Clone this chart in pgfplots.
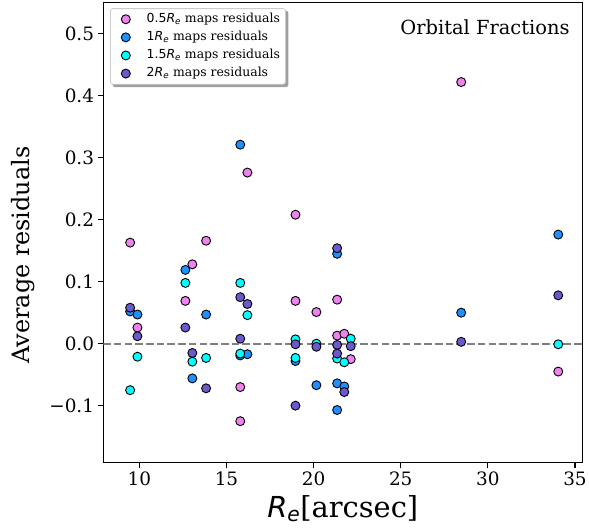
\documentclass[border=0pt]{standalone}
\usepackage{fontspec}
\setmainfont{DejaVu Serif}
\setsansfont{DejaVu Sans}
\usepackage{pgfplots}
\pgfplotsset{compat=1.18}
\usetikzlibrary{backgrounds}
\definecolor{cviolet}{HTML}{EE82EE}
\definecolor{cdodger}{HTML}{1E90FF}
\definecolor{ccyan}{HTML}{00FFFF}
\definecolor{cslate}{HTML}{6A5ACD}
\newcommand{\Reff}{\textsf{\textit{R}}\textsubscript{\textsf{\textit{e}}}}
\pgfplotsset{
 mylegimg/.style={legend image code/.code={\path (0bp,0bp) (30bp,0bp); \draw[mark repeat=2,mark phase=2,##1] plot coordinates {(0bp,0bp)(11bp,0bp)(30bp,0bp)};}},
}
\begin{document}
\begin{tikzpicture}
\begin{axis}[
 at={(0,0)}, anchor=south west,
 scale only axis, width=479bp, height=460bp,
 xmin=7.93, xmax=35.42, ymin=-0.192, ymax=0.55,
 xtick={10,15,20,25,30,35}, xticklabels={10,15,20,25,30,35},
 ytick={-0.1,0,0.1,0.2,0.3,0.4,0.5}, yticklabels={−0.1,0.0,0.1,0.2,0.3,0.4,0.5},
 tick align=outside, tick pos=left,
 major tick length=5.7bp,
 every tick/.style={black, line width=1.2bp},
 axis line style={line width=1.5bp},
 tick label style={font=\fontsize{18.5}{22}\selectfont},
 xlabel={\Reff[arcsec]},
 ylabel={Average residuals},
 xlabel style={at={(axis description cs:0.5,-0.1187)}, anchor=base, font=\fontsize{29}{34}\selectfont},
 ylabel style={at={(axis description cs:-0.1676,0.4515)}, anchor=center, font=\fontsize{24}{28}\selectfont},
 legend style={name=L, at={(0.014,0.988)}, anchor=north west, draw=gray!40, line width=0.8bp, fill=white, rounded corners=2.5bp, font=\fontsize{12.5}{14}\selectfont, row sep=2.8bp, inner xsep=4bp, inner ysep=3bp, nodes={text height=9.3bp,text depth=3bp, inner sep=1.5bp}},
 legend cell align=left,
]
\addplot[forget plot, gray, line width=1.8bp, dash pattern=on 7.5bp off 3.2bp] coordinates {(7.93,0) (35.42,0)};
\addplot[only marks, mark=*, mark size=4.5bp, mark options={fill=cviolet, draw=black, line width=0.9bp}, mylegimg] coordinates {
(9.47,0.163) (9.89,0.026) (12.64,0.069) (13.04,0.128) (13.83,0.166) (15.79,-0.070) (15.79,-0.125) (16.2,0.276) (18.96,0.208) (18.96,0.069) (20.16,0.051) (21.35,0.071) (21.35,0.013) (21.76,0.016) (22.13,-0.025) (28.47,0.422) (34.04,-0.045)
};
\addlegendentry{\textsf{0.5}\Reff\ maps residuals}
\addplot[only marks, mark=*, mark size=4.5bp, mark options={fill=cdodger, draw=black, line width=0.9bp}, mylegimg] coordinates {
(9.47,0.052) (9.89,0.047) (12.64,0.119) (13.04,-0.056) (13.83,0.047) (15.79,0.321) (15.79,-0.019) (16.2,-0.017) (18.96,-0.028) (20.16,-0.067) (21.35,0.145) (21.35,-0.064) (21.35,-0.107) (21.76,-0.069) (28.47,0.050) (34.04,0.176)
};
\addlegendentry{\textsf{1}\Reff\ maps residuals}
\addplot[only marks, mark=*, mark size=4.5bp, mark options={fill=ccyan, draw=black, line width=0.9bp}, mylegimg] coordinates {
(9.47,-0.075) (9.89,-0.021) (12.64,0.098) (13.04,-0.029) (13.83,-0.023) (15.79,0.098) (15.79,-0.016) (16.2,0.046) (18.96,0.007) (18.96,-0.023) (20.16,0.000) (21.35,-0.024) (21.76,-0.030) (22.13,0.008) (34.04,-0.001)
};
\addlegendentry{\textsf{1.5}\Reff\ maps residuals}
\addplot[only marks, mark=*, mark size=4.5bp, mark options={fill=cslate, draw=black, line width=0.9bp}, mylegimg] coordinates {
(9.47,0.058) (9.89,0.012) (12.64,0.026) (13.04,-0.015) (13.83,-0.072) (15.79,0.075) (15.79,0.008) (16.2,0.064) (18.96,-0.001) (18.96,-0.100) (20.16,-0.005) (21.35,0.154) (21.35,-0.002) (21.35,-0.016) (21.76,-0.078) (22.13,-0.004) (28.47,0.003) (34.04,0.078)
};
\addlegendentry{\textsf{2}\Reff\ maps residuals}
\node[anchor=base east, font=\fontsize{19.5}{23}\selectfont] at (rel axis cs:0.9806,0.9313) {Orbital Fractions};
\end{axis}
\begin{scope}[on background layer]
\fill[gray!75, rounded corners=2.5bp] ([xshift=2.5bp,yshift=-2.5bp]L.south west) rectangle ([xshift=2.5bp,yshift=-2.5bp]L.north east);
\end{scope}
\pgfresetboundingbox
\path (-103.3bp,-66.3bp) rectangle (485.7bp,462.7bp);
\end{tikzpicture}
\end{document}
